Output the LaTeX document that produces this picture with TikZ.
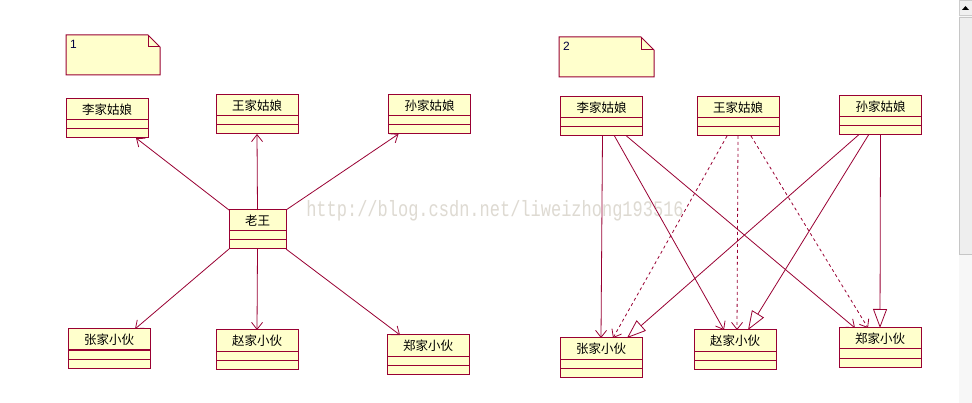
\documentclass[tikz,border=0pt]{standalone}
\usepackage{fontspec}
\setmainfont{Liberation Sans}
\newfontfamily\cjk{Noto Sans CJK SC}
\newfontfamily\wmfont{Liberation Mono}
\usetikzlibrary{positioning,arrows.meta}
\definecolor{umlred}{RGB}{153,0,51}
\definecolor{umlfill}{RGB}{255,255,204}
\definecolor{wmgray}{RGB}{222,218,210}
\tikzset{
  cname/.style={draw=umlred,fill=umlfill,line width=1pt,outer sep=0pt,inner sep=0pt,
    minimum width=82pt,minimum height=21pt,font=\cjk\fontsize{12.5}{13}\selectfont},
  ccomp/.style={draw=umlred,fill=umlfill,line width=1pt,outer sep=0pt,inner sep=0pt,
    minimum width=82pt,minimum height=9pt},
  notebox/.style={inner sep=0pt,outer sep=0pt,minimum width=94pt,minimum height=40pt},
  notetxt/.style={anchor=north west,inner sep=0pt,font=\fontsize{12}{12}\selectfont,text=blue!25!black},
  assoc/.style={draw=umlred,line width=0.8pt,-{Straight Barb[length=7pt,width=11pt]}},
  dep/.style={assoc,dash pattern=on 3pt off 3pt},
  gen/.style={draw=umlred,line width=0.8pt,-{Triangle[open,length=19pt,width=14pt]}}
}
% class box: name part plus two empty compartments
\newcommand{\umlclass}[4][82pt]{%
  \node[cname,minimum width=#1] (#2) at (#3) {#4};
  \node[ccomp,minimum width=#1,below=0pt of #2] (#2a) {};
  \node[ccomp,minimum width=#1,below=0pt of #2a] (#2b) {};}
\newcommand{\umlnote}[3]{%
  \draw[umlred,fill=umlfill,line width=1pt] (#1.south west) -- (#1.north west)
    -- ([xshift=-#2]#1.north east) -- ([yshift=-#2]#1.north east) -- (#1.south east) -- cycle;
  \draw[umlred,line width=1pt] ([xshift=-#2]#1.north east) -- ([xshift=-#2,yshift=-#2]#1.north east)
    -- ([yshift=-#2]#1.north east);
  \node[notetxt] at ([xshift=4pt,yshift=-5pt]#1.north west) {#3};}
\begin{document}
\begin{tikzpicture}[x=1pt,y=-1pt]
\useasboundingbox[fill=white] (0,0) rectangle (972,403);

% watermark
\node[font=\wmfont\fontsize{17}{17}\selectfont,text=wmgray,yscale=1.3,transform shape] (wm) at (495,211) {http://blog.csdn.net/liweizhong193516};

% ---- diagram 1 ----
\node[notebox] (n1) at (113,55) {};
\umlnote{n1}{12pt}{1}
\umlclass{l1}{107,109.5}{李家姑娘}
\umlclass{l2}{257,105.5}{王家姑娘}
\umlclass{l3}{429.5,105.5}{孙家姑娘}
\umlclass[57pt]{lw}{257.5,220.5}{老王}
\umlclass{l4}{109,339.5}{张家小伙}
\umlclass{l5}{257,340.5}{赵家小伙}
\umlclass{l6}{428,345.5}{郑家小伙}

\draw[assoc] (lw.north west) -- ([xshift=-12pt]l1b.south east);
\draw[assoc] (lw.north) -- (l2b.south);
\draw[assoc] (lw.north east) -- ([xshift=10pt]l3b.south west);
\draw[assoc] (lwb.south west) -- ([xshift=-15pt]l4.north east);
\draw[assoc] (lwb.south) -- (l5.north);
\draw[assoc] (lwb.south east) -- ([xshift=13pt]l6.north west);

% ---- diagram 2 ----
\node[notebox,minimum width=95pt] (n2) at (606.5,57) {};
\umlnote{n2}{13pt}{2}
\umlclass{r1}{601.5,107.5}{李家姑娘}
\umlclass{r2}{738,107.5}{王家姑娘}
\umlclass{r3}{880.5,106.5}{孙家姑娘}
\umlclass{r4}{601,348.5}{张家小伙}
\umlclass{r5}{735,340.5}{赵家小伙}
\umlclass{r6}{880,338.5}{郑家小伙}

\draw[assoc] ([xshift=1pt]r1b.south) -- (r4.north);
\draw[assoc] ([xshift=54pt]r1b.south west) -- ([xshift=30pt]r5.north west);
\draw[assoc] ([xshift=66pt]r1b.south west) -- ([xshift=16pt]r6.north west);
\draw[dep] ([xshift=-11pt]r2b.south) -- ([xshift=53pt]r4.north west);
\draw[dep] (r2b.south) -- ([xshift=2pt]r5.north);
\draw[dep] ([xshift=13pt]r2b.south) -- ([xshift=29pt]r6.north west);
\draw[gen] ([xshift=-22pt]r3b.south) -- ([xshift=-15pt]r4.north east);
\draw[gen] ([xshift=-12pt]r3b.south) -- ([xshift=54pt]r5.north west);
\draw[gen] (r3b.south) -- (r6.north);

% scroll bar at the right edge
\fill[gray!6] (959,0) rectangle (972,403);
\draw[gray!40,fill=gray!12] (959.5,0) rectangle (972,15);
\fill[black] (962,10) -- (969,10) -- (965.5,6) -- cycle;
\draw[gray!45,fill=gray!13] (959.5,17) rectangle (972,254);
\end{tikzpicture}
\end{document}
